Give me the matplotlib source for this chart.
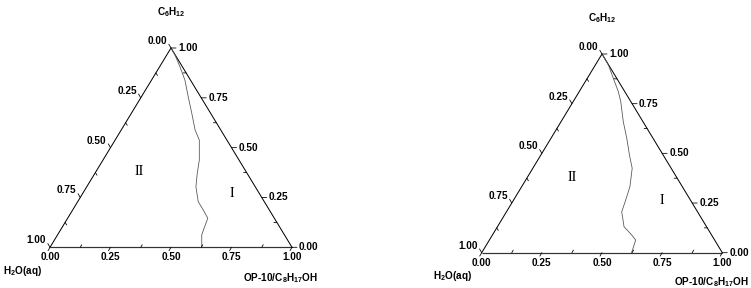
import matplotlib
matplotlib.use("Agg")
import matplotlib.pyplot as plt
import numpy as np

plt.rcParams['font.family'] = ['Liberation Sans', 'DejaVu Sans']
plt.rcParams['mathtext.fontset'] = 'custom'
plt.rcParams['mathtext.rm'] = 'Liberation Sans:bold'
plt.rcParams['mathtext.it'] = 'Liberation Sans:bold'
plt.rcParams['mathtext.bf'] = 'Liberation Sans:bold'
plt.rcParams['mathtext.default'] = 'rm'

# ---- data: phase boundary (mass fractions) ----
left_op = [0.000, 0.034, 0.084, 0.138, 0.193, 0.250, 0.305, 0.348, 0.398, 0.423,
           0.451, 0.498, 0.540, 0.579, 0.589, 0.596, 0.627]
left_c6 = [1.000, 0.965, 0.906, 0.839, 0.756, 0.672, 0.589, 0.538, 0.438, 0.371,
           0.304, 0.229, 0.187, 0.146, 0.095, 0.062, 0.000]

right_op = [0.000, 0.054, 0.108, 0.163, 0.198, 0.259, 0.315, 0.368, 0.413, 0.450,
            0.466, 0.479, 0.526, 0.579, 0.608, 0.623]
right_c6 = [1.000, 0.945, 0.878, 0.810, 0.760, 0.659, 0.576, 0.492, 0.425, 0.332,
            0.265, 0.206, 0.131, 0.089, 0.064, 0.000]

tick_vals = [0.0, 0.25, 0.5, 0.75, 1.0]
minor_vals = [0.125, 0.375, 0.625, 0.875]
tick_labels = ['0.00', '0.25', '0.50', '0.75', '1.00']

top_label = 'C$_6$H$_{12}$'
left_label = 'H$_2$O(aq)'
right_label = 'OP-10/C$_8$H$_{17}$OH'

W, H = 751, 288
fig = plt.figure(figsize=(W / 72, H / 72), dpi=72)

FS = 10

panels = [
    dict(box=(50.0, 247.3, 242.0, 199.3), op=left_op, c6=left_c6,
         title_dy=36, h2o_xy=(3, 271), op_xy=(318, 278),
         II=(0.37, 0.38), I=(0.75, 0.27), blab=9.5),
    dict(box=(481.7, 252.7, 240.6, 198.7), op=right_op, c6=right_c6,
         title_dy=36, h2o_xy=(433, 276), op_xy=(749, 282),
         II=(0.375, 0.38), I=(0.75, 0.265), blab=10.5),
]

def tern(op, c6):
    op = np.asarray(op, float); c6 = np.asarray(c6, float)
    return op + c6 / 2.0, c6

for p in panels:
    x0, yb, w, h = p['box']
    ax = fig.add_axes([x0 / W, (H - yb) / H, w / W, h / H])
    ax.set_xlim(0, 1); ax.set_ylim(0, 1)
    ax.axis('off')
    kw = dict(clip_on=False)
    # triangle
    ax.plot([0, 1], [0, 0], color='#333333', lw=1.2, solid_capstyle='butt', **kw)
    ax.plot([1, 0.5, 0], [0, 1, 0], color='black', lw=1.0, **kw)
    # boundary curve
    cx, cy = tern(p['op'], p['c6'])
    ax.plot(cx, cy, color='#555555', lw=0.8, **kw)

    def tick(xy, d):
        ax.annotate('', xy=xy, xytext=d, textcoords='offset points',
                    arrowprops=dict(arrowstyle='-', lw=0.8, color='black',
                                    shrinkA=0, shrinkB=0), annotation_clip=False)

    # bottom axis (OP-10 fraction)
    for v, lab in zip(tick_vals, tick_labels):
        pt = tern(v, 0)
        tick(pt, (-2, -3.4))
        ax.annotate(lab, xy=pt, xytext=(0, -p['blab']), textcoords='offset points',
                    ha='center', va='center', fontsize=FS, fontweight='bold',
                    annotation_clip=False)
    for v in minor_vals:
        tick(tern(v, 0), (1.5, 2.6))
    # left axis (H2O fraction)
    for v, lab in zip(tick_vals, tick_labels):
        pt = tern(0, 1 - v)
        tick(pt, (-2.2, 3.8))
        ax.annotate(lab, xy=pt, xytext=(-4, 7), textcoords='offset points',
                    ha='right', va='center', fontsize=FS, fontweight='bold',
                    annotation_clip=False)
    for v in minor_vals:
        tick(tern(0, 1 - v), (1.6, -2.6))
    # right axis (C6H12 fraction)
    for v, lab in zip(tick_vals, tick_labels):
        pt = tern(1 - v, v)
        tick(pt, (5, 0))
        ax.annotate(lab, xy=pt, xytext=(7, 0), textcoords='offset points',
                    ha='left', va='center', fontsize=FS, fontweight='bold',
                    annotation_clip=False)
    for v in minor_vals:
        tick(tern(1 - v, v), (-3, 0))

    # region labels
    ax.text(*tern(p['II'][0] - p['II'][1] / 2, p['II'][1]),
            'II', ha='center', va='center', fontsize=14, family='Liberation Serif')
    ax.text(*tern(p['I'][0] - p['I'][1] / 2, p['I'][1]),
            'I', ha='center', va='center', fontsize=14, family='Liberation Serif')

    # component labels
    ax.annotate(top_label, xy=(0.5, 1), xytext=(0, p['title_dy']),
                textcoords='offset points', ha='center', va='center',
                fontsize=FS, fontweight='bold', annotation_clip=False)
    fig.text(p['h2o_xy'][0] / W, 1 - p['h2o_xy'][1] / H, left_label,
             ha='left', va='center', fontsize=FS, fontweight='bold')
    fig.text(p['op_xy'][0] / W, 1 - p['op_xy'][1] / H, right_label,
             ha='right', va='center', fontsize=FS, fontweight='bold')

fig.savefig('out.png', dpi=72, facecolor='white')
